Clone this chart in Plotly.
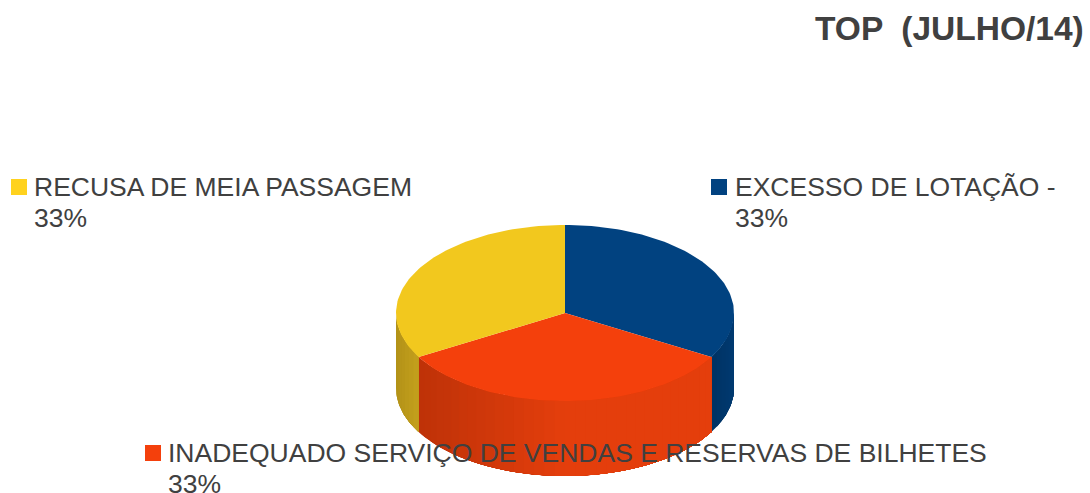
import math
import plotly.graph_objects as go

# Data
categories = ["EXCESSO DE LOTAÇÃO -", "INADEQUADO SERVIÇO DE VENDAS E RESERVAS DE BILHETES", "RECUSA DE MEIA PASSAGEM"]
values = [33, 33, 33]
percent_labels = ["33%", "33%", "33%"]
title_text = "TOP &nbsp;(JULHO/14)"

# Styles
top_colors = ["#014280", "#F4400C", "#F2C81E"]
legend_colors = ["#014280", "#F4400C", "#FFD21E"]
side_left = [(0, 50, 100), (190, 50, 8), (178, 146, 24)]
side_right = [(0, 58, 112), (228, 62, 12), (196, 160, 28)]
text_color = "#404040"
legend_pos = [(719, 187, 733, 171), (153, 453, 166, 437), (19, 187, 32, 171)]

# Geometry of the tilted disc, in pixels
W, H = 1090, 493
CX, CY, RX, RY, DEPTH = 565, 313, 169, 88, 75


def pt(theta, drop=0.0):
    return CX + RX * math.sin(theta), CY - RY * math.cos(theta) + drop


def arc(a0, a1, drop=0.0, n=80):
    return [pt(a0 + (a1 - a0) * i / n, drop) for i in range(n + 1)]


def poly(points, color):
    return go.Scatter(
        x=[p[0] for p in points], y=[p[1] for p in points], mode="lines", fill="toself",
        fillcolor=color, line=dict(color=color, width=0), hoverinfo="skip", showlegend=False,
    )


total = sum(values)
angles = [0.0]
for v in values:
    angles.append(angles[-1] + 2 * math.pi * v / total)

fig = go.Figure()

# Rim (only the front half of the disc is visible), shaded left to right.
# Each band is painted from the left end of the slice's rim, so later bands cover the earlier seam.
for i in range(len(values)):
    a0 = max(angles[i], math.pi / 2)
    a1 = min(angles[i + 1], 3 * math.pi / 2)
    if a1 <= a0:
        continue
    strips = max(2, int((a1 - a0) / 0.06))
    xl = min(pt(a0)[0], pt(a1)[0])
    xr = max(pt(a0)[0], pt(a1)[0])
    for s in range(strips):
        s0 = a1 - (a1 - a0) * s / strips      # angle falls as x rises on the front half
        s1 = a1 - (a1 - a0) * (s + 1) / strips
        xm = pt((s0 + s1) / 2)[0]
        f = (xm - xl) / (xr - xl)
        f = min(1.0, f * 2.0) if i == 1 else f
        rgb = [round(side_left[i][k] + (side_right[i][k] - side_left[i][k]) * f) for k in range(3)]
        color = f"rgb({rgb[0]},{rgb[1]},{rgb[2]})"
        fig.add_trace(poly(arc(s0, a0, 0, 60) + arc(a0, s0, DEPTH, 60), color))

# Top faces
for i in range(len(values)):
    fig.add_trace(poly([(CX, CY)] + arc(angles[i], angles[i + 1]) + [(CX, CY)], top_colors[i]))

# Legend squares and labels
fig.add_trace(go.Scatter(
    x=[p[0] for p in legend_pos], y=[p[1] for p in legend_pos], mode="markers",
    marker=dict(symbol="square", size=16, color=legend_colors, line=dict(width=0)),
    hoverinfo="skip", showlegend=False,
))
font = dict(family="Liberation Sans", size=26.5, color=text_color)
for i, cat in enumerate(categories):
    _, y0, tx, _ = legend_pos[i]
    fig.add_annotation(x=tx, y=y0, text=cat, showarrow=False, xanchor="left", yanchor="middle", font=font, xref="x", yref="y")
    fig.add_annotation(x=tx, y=y0 + 31, text=percent_labels[i], showarrow=False, xanchor="left", yanchor="middle", font=font, xref="x", yref="y")

fig.add_annotation(x=1086, y=28, text=f"<b>{title_text}</b>", showarrow=False, xanchor="right", yanchor="middle",
                   font=dict(family="Liberation Sans", size=33.5, color=text_color), xref="x", yref="y")

fig.update_layout(
    width=W, height=H, margin=dict(l=0, r=0, t=0, b=0), paper_bgcolor="white", plot_bgcolor="white",
    xaxis=dict(range=[0, W], visible=False, fixedrange=True),
    yaxis=dict(range=[H, 0], visible=False, fixedrange=True),
    showlegend=False,
)
fig.write_html("out.html", config={"displayModeBar": False},
               post_script="document.body.style.margin='0';document.documentElement.style.overflow='hidden';")
